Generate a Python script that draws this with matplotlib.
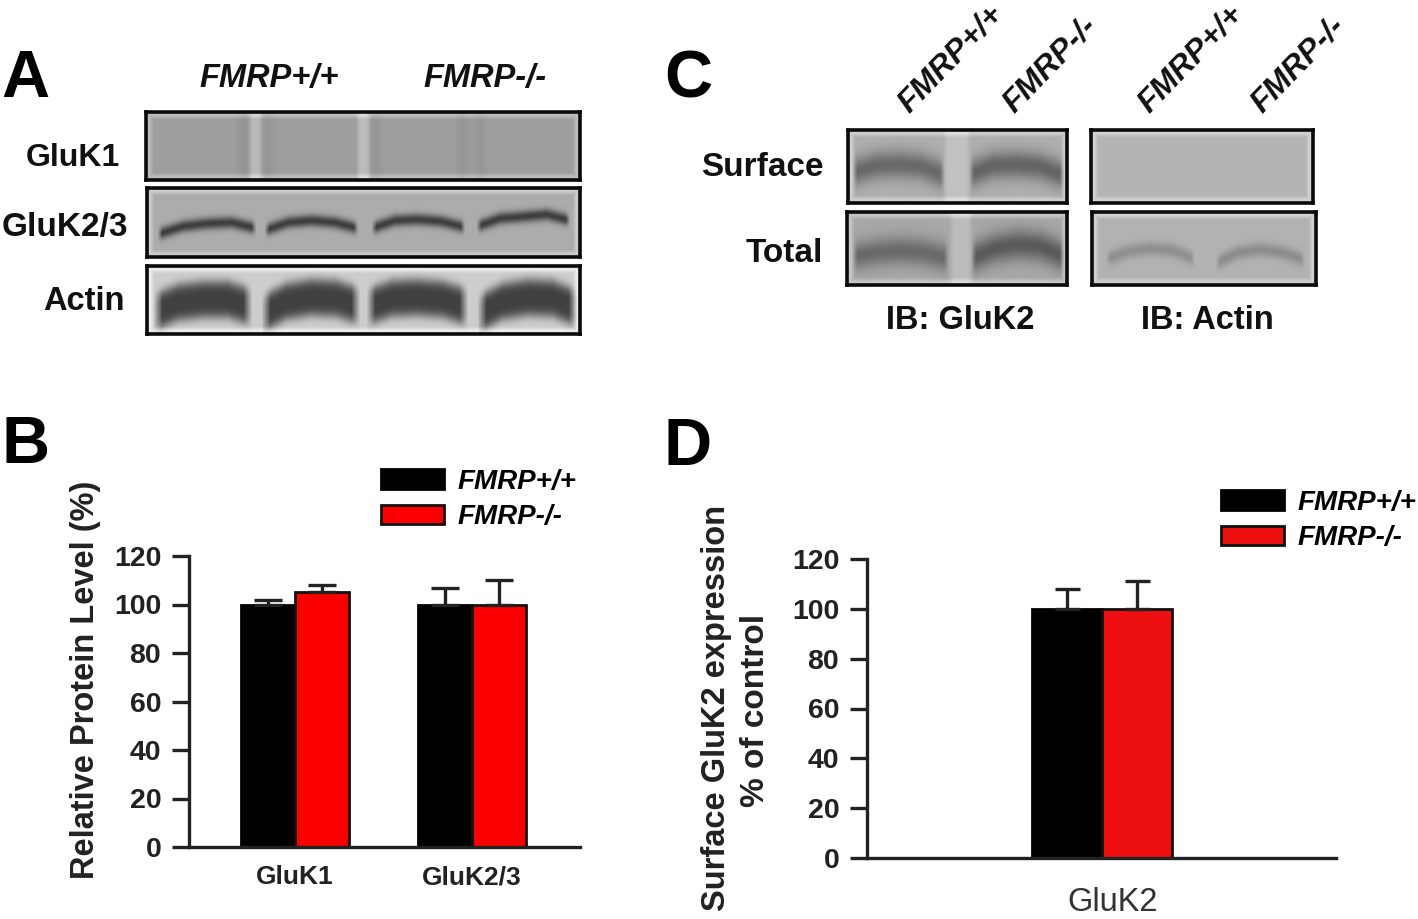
import numpy as np
import matplotlib
matplotlib.use("Agg")
import matplotlib.pyplot as plt

W, H = 1418, 919

# panel B
groups_b = ["GluK1", "GluK2/3"]
wt_b = [100, 100]
wt_b_err = [2, 7]
ko_b = [105, 100]
ko_b_err = [3, 10]

# panel D
groups_d = ["GluK2"]
wt_d = [100]
wt_d_err = [8]
ko_d = [100]
ko_d_err = [11]

y_ticks = [0, 20, 40, 60, 80, 100, 120]
legend_labels = ["FMRP+/+", "FMRP-/-"]

plt.rcParams["font.family"] = ["Liberation Sans", "DejaVu Sans"]

fig = plt.figure(figsize=(W / 100, H / 100), dpi=100)


def px_axes(x0, y0, x1, y1):
    # pixel box, y counted from the top
    return fig.add_axes([x0 / W, 1 - y1 / H, (x1 - x0) / W, (y1 - y0) / H])


def txt(x, y, s, size=24, weight="bold", style="normal", ha="center", rot=0, color="#111111"):
    if rot == 0:
        y = y + 2
    fig.text(x / W, 1 - y / H, s, fontsize=size, fontweight=weight, fontstyle=style,
             ha=ha, va="center", rotation=rot, rotation_mode="anchor", color=color)


def blot(x0, y0, x1, y1, bg, bands=(), gaps=(), streaks=(), taper=5):
    # bands: lane left, lane right, centre ys, half thickness, darkness, sharpness
    w, h = x1 - x0, y1 - y0
    xx = np.arange(x0, x1)
    yy = np.arange(y0, y1)
    img = np.full((h, w), float(bg))
    for gx0, gx1, amount in gaps:
        edge = np.clip(np.minimum(xx - gx0, gx1 - xx) / 5, 0, 1)
        img += amount * edge
    for sx, amount in streaks:
        img -= amount * np.exp(-((xx - sx) / 6.0) ** 2)
    for lx0, lx1, cy, half, dark, power in bands:
        cx = np.linspace(lx0, lx1, len(cy))
        centre = np.interp(xx, cx, cy)
        lane = np.clip(np.minimum(xx - lx0, lx1 - xx) / taper, 0, 1)
        for i, y in enumerate(yy):
            img[i] -= dark * lane * np.exp(-np.abs((y - centre) / half) ** power)
    # lighter halo just inside the frame
    dist_x = np.minimum(xx - x0, x1 - 1 - xx)[None, :]
    dist_y = np.minimum(yy - y0, y1 - 1 - yy)[:, None]
    img += 30 * np.clip(1 - (np.minimum(dist_x, dist_y) - 3) / 4, 0, 1)
    ax = px_axes(x0, y0, x1, y1)
    ax.imshow(img, cmap="gray", vmin=0, vmax=255, aspect="auto", interpolation="bilinear")
    ax.set_xticks([])
    ax.set_yticks([])
    for s in ax.spines.values():
        s.set_linewidth(2.6)
        s.set_color("#0a0a0a")


def bars(ax, groups, wt, wt_err, ko, ko_err, width, red, cap):
    x = np.arange(len(groups))
    err_kw = dict(capsize=cap, ecolor="#222222", elinewidth=2.4, capthick=2.4)
    ax.bar(x - width / 2, wt, width, color="black", edgecolor="black", linewidth=2,
           yerr=[np.zeros(len(wt)), wt_err], error_kw=err_kw, label=legend_labels[0])
    ax.bar(x + width / 2, ko, width, color=red, edgecolor="#111111", linewidth=2,
           yerr=[np.zeros(len(ko)), ko_err], error_kw=err_kw, label=legend_labels[1])
    return x


def style_axis(ax, ticksize):
    ax.set_ylim(0, 120)
    ax.set_yticks(y_ticks)
    ax.spines["top"].set_visible(False)
    ax.spines["right"].set_visible(False)
    for s in ["left", "bottom"]:
        ax.spines[s].set_linewidth(2.4)
        ax.spines[s].set_color("#222222")
    ax.tick_params(axis="y", length=12, width=2.4, color="#222222", labelsize=ticksize, pad=8)
    for lab in ax.get_yticklabels():
        lab.set_fontweight("bold")
        lab.set_color("#222222")
    ax.patch.set_alpha(0)


# panel letters
txt(1, 78, "A", size=48, ha="left", color="black")
txt(1, 444, "B", size=48, ha="left", color="black")
txt(664, 78, "C", size=48, ha="left", color="black")
txt(664, 446, "D", size=48, ha="left", color="black")

# panel A blots
txt(269, 76, "FMRP+/+", size=23.5, style="italic")
txt(485, 76, "FMRP-/-", size=23.5, style="italic")
txt(120, 156, "GluK1", size=23, ha="right")
txt(128, 225, "GluK2/3", size=24, ha="right")
txt(125, 300, "Actin", size=23.5, ha="right")

blot(146, 112, 580, 180, 158, gaps=[(247, 263, 26), (355, 371, 30)],
     streaks=[(243, 10), (268, 8), (376, 8), (462, 8), (480, 8)])
blot(147, 188, 580, 257, 172, bands=[
    (157, 256, [234, 226, 223, 222, 228], 6, 110, 2),
    (264, 358, [230, 222, 220, 222, 228], 6, 110, 2),
    (371, 465, [228, 220, 219, 221, 227], 6, 110, 2),
    (476, 570, [226, 218, 216, 214, 220], 6, 110, 2),
])
blot(147, 266, 580, 334, 205, taper=9, bands=[
    (153, 252, [312, 302, 299, 299, 307], 19, 140, 4),
    (261, 360, [314, 301, 297, 298, 306], 19, 140, 4),
    (366, 468, [307, 298, 297, 299, 307], 19, 140, 4),
    (477, 577, [314, 301, 297, 298, 308], 19, 140, 4),
])

# panel C blots
for x, lab in [(903, legend_labels[0]), (1008, legend_labels[1]),
               (1143, legend_labels[0]), (1256, legend_labels[1])]:
    txt(x, 108, lab, size=23, style="italic", ha="left", rot=46)
txt(824, 165, "Surface", size=24, ha="right")
txt(823, 251, "Total", size=24, ha="right")
txt(960, 319, "IB: GluK2", size=23.5)
txt(1207, 319, "IB: Actin", size=23.5)

blot(848, 130, 1067, 203, 175, bands=[
    (852, 944, [172, 165, 164, 166, 175], 14, 70, 2),
    (968, 1063, [174, 165, 164, 166, 175], 14, 75, 2),
], gaps=[(942, 970, 18)])
blot(1091, 130, 1313, 203, 180)
blot(847, 212, 1067, 285, 168, bands=[
    (852, 948, [256, 252, 250, 252, 258], 14, 62, 2),
    (970, 1063, [258, 248, 244, 246, 256], 15, 78, 2),
], gaps=[(948, 972, 20)])
blot(1092, 212, 1316, 285, 178, bands=[
    (1105, 1195, [259, 251, 248, 250, 259], 7, 35, 2),
    (1215, 1305, [263, 252, 249, 252, 260], 7, 38, 2),
])

# panel B bars
ax_b = px_axes(189, 556, 580, 847)
ax_b.set_xlim(-0.6, 1.61)
x_b = bars(ax_b, groups_b, wt_b, wt_b_err, ko_b, ko_b_err, 0.305, "#fb0000", 10)
style_axis(ax_b, 20.5)
ax_b.set_xticks(x_b, groups_b, fontsize=19, fontweight="bold", color="#222222")
ax_b.tick_params(axis="x", length=0, pad=13)
txt(86, 680, "Relative Protein Level (%)", size=23.5, rot=90, color="#222222")
ax_b.legend(loc="upper left", bbox_to_anchor=(381 / W, 1 - 469 / H), bbox_transform=fig.transFigure,
            frameon=False, handlelength=2.27, handleheight=0.72, labelspacing=0.33,
            borderpad=0, borderaxespad=0, handletextpad=0.5,
            prop=dict(style="italic", weight="bold", size=20))

# panel D bars
ax_d = px_axes(867, 559, 1336, 858)
ax_d.set_xlim(-3.36, 3.34)
x_d = bars(ax_d, groups_d, wt_d, wt_d_err, ko_d, ko_d_err, 1.0, "#ee1010", 9)
style_axis(ax_d, 20.5)
ax_d.set_xticks(x_d + 0.15, groups_d, fontsize=23.5, color="#333333")
ax_d.tick_params(axis="x", length=0, pad=21)
txt(716, 708, "Surface GluK2 expression", size=23.5, rot=90, color="#222222")
txt(756, 710, "% of control", size=24, rot=90, color="#222222")
ax_d.legend(loc="upper left", bbox_to_anchor=(1221 / W, 1 - 490 / H), bbox_transform=fig.transFigure,
            frameon=False, handlelength=2.27, handleheight=0.72, labelspacing=0.33,
            borderpad=0, borderaxespad=0, handletextpad=0.5,
            prop=dict(style="italic", weight="bold", size=20))

fig.savefig("out.png", dpi=100)
